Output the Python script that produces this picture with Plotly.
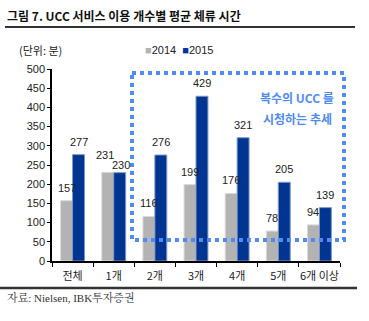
import plotly.graph_objects as go

categories = ["전체", "1개", "2개", "3개", "4개", "5개", "6개 이상"]
values_2014 = [157, 231, 116, 199, 176, 78, 94]
values_2015 = [277, 230, 276, 429, 321, 205, 139]
series_names = ["2014", "2015"]
y_ticks = [0, 50, 100, 150, 200, 250, 300, 350, 400, 450, 500]

W, H = 369, 321
L, R, T, B = 52, 340, 69, 261  # plot area in pixels

def px_x(x):
    return (x - L) / (R - L)

def px_y(y):
    return (B - y) / (B - T)

GRAY = "#B3B3B3"
NAVY = "#003591"
BLUE = "#4F8BF5"
KR = "Noto Sans CJK KR, Liberation Sans, sans-serif"
NUM = "Liberation Sans, Arial, sans-serif"

fig = go.Figure()
fig.add_bar(x=categories, y=values_2014, name=series_names[0],
            marker=dict(color=GRAY, line=dict(color="#D9D9D9", width=1)))
fig.add_bar(x=categories, y=values_2015, name=series_names[1],
            marker=dict(color=NAVY, line=dict(color="#7F95C4", width=1)))

fig.update_layout(
    width=W, height=H,
    margin=dict(l=L, r=W - R, t=T, b=H - B, pad=0),
    paper_bgcolor="white", plot_bgcolor="white",
    barmode="group", bargap=0.42, bargroupgap=0,
    showlegend=False,
    xaxis=dict(type="category", showline=True, linecolor="black", linewidth=1.5,
               ticks="outside", ticklen=4, tickcolor="black", tickson="boundaries",
               tickangle=0, automargin=False, ticklabelstandoff=4,
               tickfont=dict(family=KR, size=11, color="#222"), showgrid=False),
    yaxis=dict(range=[0, 500], tickvals=y_ticks, showline=True, linecolor="black",
               linewidth=1.5, ticks="outside", ticklen=3, tickcolor="black",
               automargin=False,
               tickfont=dict(family=NUM, size=11, color="#222"), showgrid=False,
               zeroline=False),
)

# value labels above each bar; the two close "1개" labels are nudged apart
annotations = []
for i, (cat, v14, v15) in enumerate(zip(categories, values_2014, values_2015)):
    dx14, dy14, dx15, dy15 = -6, 13, 6, 13
    if i == 1:
        dx14, dy14, dx15, dy15 = -9, 17, 7, 8
    annotations.append(dict(x=cat, y=v14, xref="x", yref="y", text=str(v14),
                            xshift=dx14, yshift=dy14))
    annotations.append(dict(x=cat, y=v15, xref="x", yref="y", text=str(v15),
                            xshift=dx15, yshift=dy15))
for a in annotations:
    a.update(showarrow=False, xanchor="center", yanchor="middle",
             font=dict(family=NUM, size=11, color="#222"))

paper_notes = [
    dict(x=px_x(5), y=px_y(15), text="<b>그림 7. UCC 서비스 이용 개수별 평균 체류 시간</b>",
         font=dict(family=KR, size=12, color="#111"), xanchor="left", yanchor="middle"),
    dict(x=px_x(17), y=px_y(50), text="(단위: 분)",
         font=dict(family=KR, size=11, color="#222"), xanchor="left", yanchor="middle"),
    dict(x=px_x(143), y=px_y(50),
         text=f"<span style='color:{GRAY}'>■</span>{series_names[0]}  "
              f"<span style='color:{NAVY}'>■</span>{series_names[1]}",
         font=dict(family=NUM, size=11, color="#222"), xanchor="left", yanchor="middle"),
    dict(x=px_x(297), y=px_y(97), text="<b>복수의 UCC 를</b>",
         font=dict(family=KR, size=12, color=BLUE), xanchor="center", yanchor="middle"),
    dict(x=px_x(297), y=px_y(118), text="<b>시청하는 추세</b>",
         font=dict(family=KR, size=12, color=BLUE), xanchor="center", yanchor="middle"),
    dict(x=px_x(5), y=px_y(297), text="자료: Nielsen, IBK투자증권",
         font=dict(family="Liberation Serif, Noto Serif CJK KR, serif", size=11, color="#333"),
         xanchor="left", yanchor="middle"),
]
for a in paper_notes:
    a.update(xref="paper", yref="paper", showarrow=False)
fig.update_layout(annotations=annotations + paper_notes)

shapes = [
    dict(type="line", x0=px_x(5), x1=px_x(355), y0=px_y(27), y1=px_y(27),
         line=dict(color="#333", width=2)),
    dict(type="line", x0=px_x(0), x1=px_x(357), y0=px_y(288), y1=px_y(288),
         line=dict(color="#333", width=2.5)),
    dict(type="rect", x0=px_x(132), x1=px_x(344), y0=px_y(73), y1=px_y(240),
         line=dict(color=BLUE, width=4, dash="dot")),
]
for s in shapes:
    s.update(xref="paper", yref="paper")
fig.update_layout(shapes=shapes)

fig.write_html("out.html")
